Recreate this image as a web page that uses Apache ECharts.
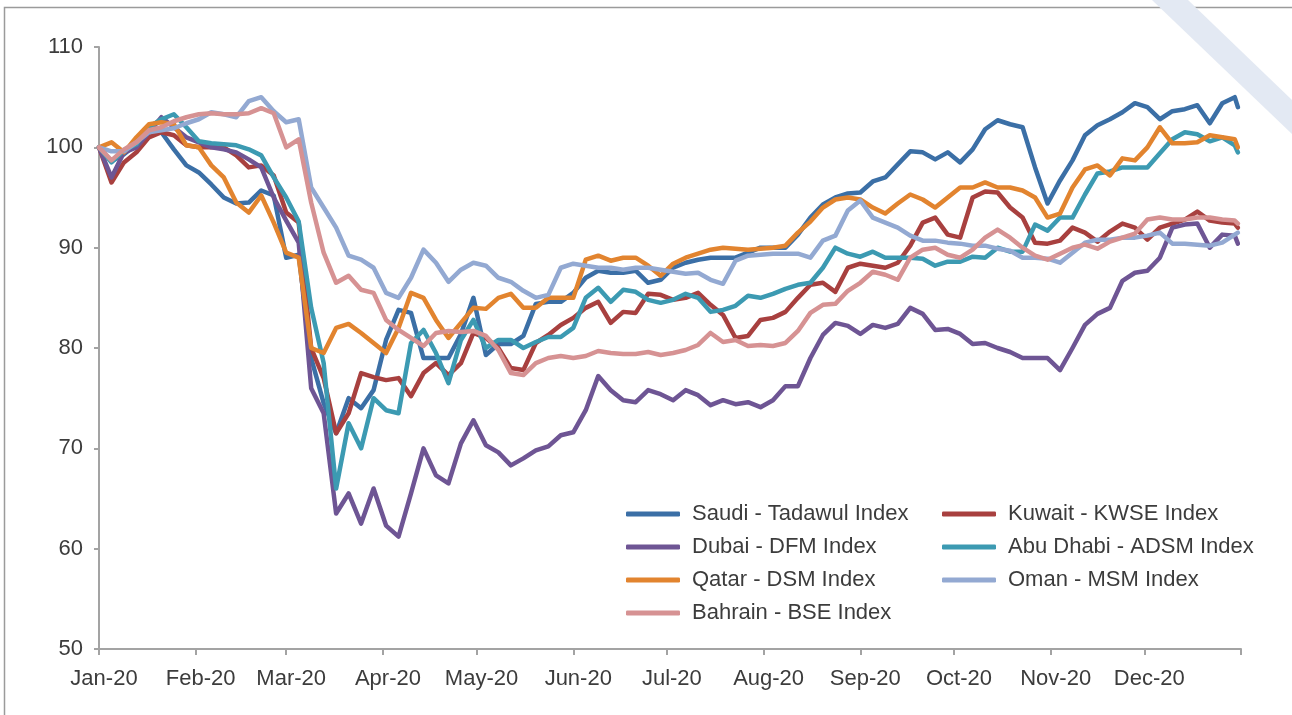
<!doctype html>
<html>
<head>
<meta charset="utf-8">
<title>GCC indices 2020</title>
<script src="https://cdn.jsdelivr.net/npm/echarts@6/dist/echarts.min.js"></script>
<style>
  html, body { margin: 0; padding: 0; background: #fff; }
  #chart { width: 1292px; height: 715px; }
</style>
</head>
<body>
<div id="chart"></div>
<script>
// day of year (Jan 1 = 0), one sample every 4 days
var days = [];
for (var d = 0; d <= 364; d += 4) days.push(d);
days.push(365);

var monthStarts = [0, 31, 60, 91, 121, 152, 182, 213, 244, 274, 305, 335];
var monthLabels = ['Jan-20', 'Feb-20', 'Mar-20', 'Apr-20', 'May-20', 'Jun-20',
                   'Jul-20', 'Aug-20', 'Sep-20', 'Oct-20', 'Nov-20', 'Dec-20'];
var yTicks = [50, 60, 70, 80, 90, 100, 110];

var saudi = [
  100, 98.6, 99.3, 100.3, 101.5, 101.5, 99.8, 98.2, 97.5, 96.3,
  95, 94.4, 94.5, 95.7, 95.2, 89, 89.3, 79, 74.5, 71.5,
  75, 74, 75.8, 80.8, 83.8, 83.5, 79, 79, 79, 81.4,
  85, 79.3, 80.4, 80.4, 81.2, 84.4, 84.6, 84.6, 85.5, 87,
  87.7, 87.5, 87.5, 87.7, 86.5, 86.8, 88, 88.5, 88.8, 89,
  89, 89, 89.5, 90, 90, 90, 91.3, 93, 94.3, 95,
  95.4, 95.5, 96.6, 97, 98.3, 99.6, 99.5, 98.8, 99.5, 98.5,
  99.8, 101.8, 102.7, 102.3, 102, 98, 94.4, 96.7, 98.7, 101.2,
  102.2, 102.8, 103.5, 104.4, 104, 102.8, 103.6, 103.8, 104.2, 102.4,
  104.4, 105, 104
];
var kuwait = [
  100, 96.5, 98.5, 99.5, 101, 101.5, 101.2, 100.2, 100, 100,
  100, 99.2, 98, 98.2, 97.2, 93.5, 92.5, 80, 77, 71.5,
  73.5, 77.5, 77.1, 76.8, 77, 75.2, 77.5, 78.5, 77.3, 78.5,
  81.5, 81, 80, 78, 77.8, 80.5, 81.3, 82.3, 83, 84,
  84.6, 82.5, 83.6, 83.5, 85.4, 85.3, 84.8, 85, 85.5, 84.3,
  83.3, 81, 81.2, 82.8, 83, 83.6, 85, 86.3, 86.5, 85.6,
  88, 88.4, 88.2, 88, 88.5, 90.2, 92.5, 93, 91.3, 91,
  95, 95.6, 95.5, 94, 93, 90.5, 90.4, 90.7, 92, 91.5,
  90.6, 91.6, 92.4, 92, 90.8, 92, 92.4, 92.8, 93.6, 92.7,
  92.5, 92.4, 92
];
var dubai = [
  100, 97, 99.5, 100, 101.5, 103, 102, 101, 100.5, 100,
  99.8, 99.5, 98.8, 98, 95, 92.7, 90.5, 76, 73.5, 63.5,
  65.5, 62.5, 66, 62.3, 61.2, 65.5, 70, 67.3, 66.5, 70.5,
  72.8, 70.3, 69.6, 68.3, 69, 69.8, 70.2, 71.3, 71.6, 73.8,
  77.2, 75.8, 74.8, 74.6, 75.8, 75.4, 74.8, 75.8, 75.3, 74.3,
  74.8, 74.4, 74.6, 74.1, 74.8, 76.2, 76.2, 79, 81.3, 82.5,
  82.2, 81.4, 82.3, 82, 82.4, 84, 83.4, 81.8, 81.9, 81.4,
  80.4, 80.5, 80, 79.6, 79, 79, 79, 77.8, 80, 82.3,
  83.4, 84, 86.7, 87.5, 87.7, 89, 92, 92.3, 92.4, 90,
  91.3, 91.2, 90.4
];
var abuDhabi = [
  100, 98.5, 99.7, 100.3, 102, 102.8, 103.3, 102, 100.6, 100.4,
  100.3, 100.2, 99.8, 99.2, 97, 95, 92.6, 84, 78.5, 66,
  72.5, 70, 75, 73.8, 73.5, 80.5, 81.8, 79.5, 76.5, 80.8,
  82.8, 80, 80.8, 80.8, 80, 80.6, 81.1, 81.1, 82, 85,
  86, 84.6, 85.8, 85.6, 84.8, 84.5, 84.8, 85.4, 85, 83.6,
  83.8, 84.2, 85.2, 85, 85.4, 85.9, 86.3, 86.5, 88, 90,
  89.4, 89.1, 89.6, 89, 89, 89, 88.9, 88.2, 88.6, 88.6,
  89.1, 89, 90, 89.6, 89.6, 92.3, 91.7, 93, 93, 95.3,
  97.4, 97.6, 98, 98, 98, 99.4, 100.8, 101.5, 101.3, 100.6,
  101, 100.2, 99.5
];
var qatar = [
  100, 100.5, 99.5, 101, 102.3, 102.5, 102.3, 100.2, 100, 98.2,
  97, 94.5, 93.5, 95.2, 92.5, 89.5, 89, 80, 79.5, 82,
  82.4, 81.5, 80.5, 79.5, 82, 85.5, 85, 82.8, 81, 82.5,
  84, 83.9, 85, 85.4, 84, 84, 85, 85, 85, 88.8,
  89.2, 88.7, 89, 89, 88.2, 87.2, 88.4, 89, 89.4, 89.8,
  90, 89.9, 89.8, 89.9, 90, 90.2, 91.5, 92.6, 94, 94.8,
  95, 94.8, 94, 93.4, 94.4, 95.3, 94.8, 94, 95, 96,
  96, 96.5, 96, 96, 95.7, 95, 93, 93.4, 96, 97.8,
  98.2, 97.2, 98.9, 98.7, 100, 102, 100.4, 100.4, 100.5, 101.2,
  101, 100.8, 100
];
var oman = [
  100, 99.6, 99.6, 100.5, 101.5, 101.7, 101.9, 102.4, 102.8, 103.5,
  103.3, 103, 104.6, 105, 103.6, 102.5, 102.8, 96, 94, 92,
  89.2, 88.8, 88, 85.5, 85, 87, 89.8, 88.5, 86.6, 87.8,
  88.5, 88.2, 87, 86.6, 85.7, 85, 85.3, 88, 88.4, 88.2,
  88, 88, 87.8, 88, 88, 87.8, 87.6, 87.4, 87.5, 86.8,
  86.4, 88.7, 89.2, 89.3, 89.4, 89.4, 89.4, 89, 90.7, 91.2,
  93.7, 94.7, 93, 92.5, 92, 91.2, 90.7, 90.7, 90.5, 90.4,
  90.2, 90.2, 89.9, 89.7, 89, 89, 88.9, 88.5, 89.5, 90.5,
  90.8, 90.8, 91, 91, 91.2, 91.5, 90.4, 90.4, 90.3, 90.2,
  90.5, 91.3, 91.5
];
var bahrain = [
  100, 98.7, 99.8, 100.5, 101.7, 102, 102.6, 103, 103.3, 103.4,
  103.3, 103.3, 103.4, 103.9, 103.4, 100, 100.8, 94.5, 89.5, 86.5,
  87.2, 85.8, 85.5, 82.8, 81.8, 81, 80.2, 81.5, 81.7, 81.6,
  81.7, 81.2, 79.8, 77.5, 77.3, 78.5, 79, 79.2, 79, 79.2,
  79.7, 79.5, 79.4, 79.4, 79.6, 79.3, 79.5, 79.8, 80.3, 81.5,
  80.6, 80.8, 80.2, 80.3, 80.2, 80.5, 81.7, 83.5, 84.3, 84.4,
  85.7, 86.5, 87.6, 87.3, 86.8, 89, 89.8, 90, 89.3, 89,
  89.8, 91, 91.8, 91, 90, 89.2, 88.8, 89.4, 90, 90.3,
  89.9, 90.6, 91, 91.4, 92.8, 93, 92.8, 92.8, 93, 93,
  92.8, 92.7, 92.4
];

var names = ['Saudi - Tadawul Index', 'Kuwait - KWSE Index', 'Dubai - DFM Index',
             'Abu Dhabi - ADSM Index', 'Qatar - DSM Index', 'Oman - MSM Index',
             'Bahrain - BSE Index'];
var values = [saudi, kuwait, dubai, abuDhabi, qatar, oman, bahrain];
var colors = ['#3b6fa6', '#a8403f', '#6e5594', '#3c9ab2', '#e2842f', '#93a9d2', '#d69293'];

var font = 'Liberation Sans';
var textColor = '#3c3c3c';
var axisColor = '#a3a3a3';

var series = names.map(function (n, k) {
  return {
    name: n,
    type: 'line',
    showSymbol: false,
    symbol: 'none',
    color: colors[k],
    lineStyle: { width: 4.5, color: colors[k], join: 'round', cap: 'round' },
    data: days.map(function (d, i) { return [d, values[k][i]]; })
  };
});

function legendBlock(items, left) {
  return {
    orient: 'vertical',
    left: left,
    top: 498,
    itemWidth: 54,
    itemHeight: 5,
    itemGap: 11,
    icon: 'roundRect',
    data: items,
    textStyle: { fontFamily: font, fontSize: 22, color: textColor, lineHeight: 22, padding: [0, 0, 0, 7] }
  };
}

var chart = echarts.init(document.getElementById('chart'));
chart.setOption({
  animation: false,
  backgroundColor: '#fff',
  grid: { left: 99, right: 51, top: 47, bottom: 66 },
  xAxis: {
    type: 'value',
    min: 0,
    max: 366,
    axisLine: { show: true, lineStyle: { color: axisColor, width: 2 } },
    axisTick: { show: true, length: 6, lineStyle: { color: axisColor, width: 2 },
                customValues: monthStarts.concat([366]) },
    axisLabel: {
      customValues: monthStarts,
      margin: 19,
      padding: [0, 0, 0, 10],
      fontFamily: font, fontSize: 22, color: textColor,
      formatter: function (v) { return monthLabels[monthStarts.indexOf(v)] || ''; }
    },
    splitLine: { show: false }
  },
  yAxis: {
    type: 'value',
    min: yTicks[0],
    max: yTicks[yTicks.length - 1],
    interval: 10,
    axisLine: { show: true, lineStyle: { color: axisColor, width: 2 } },
    axisTick: { show: true, length: 5, lineStyle: { color: axisColor, width: 2 } },
    axisLabel: { margin: 16, fontFamily: font, fontSize: 22, color: textColor },
    splitLine: { show: false }
  },
  legend: [
    legendBlock([names[0], names[2], names[4], names[6]], 621),
    legendBlock([names[1], names[3], names[5]], 937)
  ],
  graphic: [
    { type: 'rect', z: -10, silent: true,
      shape: { x: 4.5, y: 7.5, width: 1400, height: 800 },
      style: { fill: 'none', stroke: '#9b9b9b', lineWidth: 1.5 } },
    { type: 'polygon', z: -5, silent: true,
      shape: { points: [[1152, 0], [1188, 0], [1292, 100], [1292, 134]] },
      style: { fill: '#e3e9f3' } }
  ],
  series: series
});
</script>
</body>
</html>
